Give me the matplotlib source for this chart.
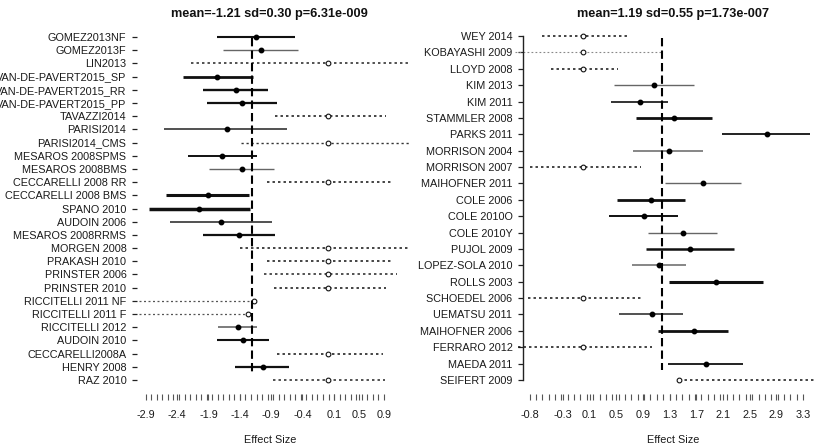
import numpy as np
import matplotlib
matplotlib.use("Agg")
import matplotlib.pyplot as plt

plt.rcParams['font.family'] = ['Liberation Sans', 'DejaVu Sans']

# ---------------- data: left panel ----------------
left_studies = ["GOMEZ2013NF", "GOMEZ2013F", "LIN2013", "VAN-DE-PAVERT2015_SP",
                "VAN-DE-PAVERT2015_RR", "VAN-DE-PAVERT2015_PP", "TAVAZZI2014", "PARISI2014",
                "PARISI2014_CMS", "MESAROS 2008SPMS", "MESAROS 2008BMS", "CECCARELLI 2008 RR",
                "CECCARELLI 2008 BMS", "SPANO 2010", "AUDOIN 2006", "MESAROS 2008RRMS",
                "MORGEN 2008", "PRAKASH 2010", "PRINSTER 2006", "PRINSTER 2010",
                "RICCITELLI 2011 NF", "RICCITELLI 2011 F", "RICCITELLI 2012", "AUDOIN 2010",
                "CECCARELLI2008A", "HENRY 2008", "RAZ 2010"]
left_lo = [-1.77, -1.67, -2.18, -2.31, -1.98, -1.92, -0.84, -2.61, -1.38, -2.23, -1.89, -0.97,
           -2.57, -2.85, -2.52, -1.99, -1.40, -0.97, -1.02, -0.86, -3.30, -3.30, -1.75, -1.77,
           -0.81, -1.48, -0.87]
left_est = [-1.14, -1.06, 0.0, -1.77, -1.46, -1.37, 0.0, -1.61, 0.0, -1.69, -1.37, 0.0,
            -1.91, -2.05, -1.70, -1.42, 0.0, 0.0, 0.0, 0.0, -1.18, -1.27, -1.43, -1.35,
            0.0, -1.03, 0.0]
left_hi = [-0.52, -0.47, 2.20, -1.19, -0.95, -0.81, 0.93, -0.65, 1.40, -1.13, -0.86, 1.04,
           -1.26, -1.24, -0.89, -0.84, 1.40, 1.04, 1.11, 0.93, -1.18, -1.27, -1.12, -0.94,
           0.89, -0.62, 0.91]
left_null = [0, 0, 1, 0, 0, 0, 1, 0, 1, 0, 0, 1, 0, 0, 0, 0, 1, 1, 1, 1, 1, 1, 0, 0, 1, 0, 1]
left_mean = -1.21
left_title = "mean=-1.21 sd=0.30 p=6.31e-009"
left_ticks = [-2.9, -2.4, -1.9, -1.4, -0.9, -0.4, 0.1, 0.5, 0.9]
left_tick_labels = ["-2.9", "-2.4", "-1.9", "-1.4", "-0.9", "-0.4", "0.1", "0.5", "0.9"]

# ---------------- data: right panel ----------------
right_studies = ["WEY 2014", "KOBAYASHI 2009", "LLOYD 2008", "KIM 2013", "KIM 2011",
                 "STAMMLER 2008", "PARKS 2011", "MORRISON 2004", "MORRISON 2007",
                 "MAIHOFNER 2011", "COLE 2006", "COLE 2010O", "COLE 2010Y", "PUJOL 2009",
                 "LOPEZ-SOLA 2010", "ROLLS 2003", "SCHOEDEL 2006", "UEMATSU 2011",
                 "MAIHOFNER 2006", "FERRARO 2012", "MAEDA 2011", "SEIFERT 2009"]
right_lo = [-0.61, -1.02, -0.48, 0.47, 0.42, 0.80, 2.09, 0.75, -0.79, 1.23, 0.51, 0.39,
            0.98, 0.95, 0.74, 1.29, -0.82, 0.54, 1.13, -0.97, 1.28, 1.44]
right_est = [0.0, 0.0, 0.0, 1.07, 0.86, 1.37, 2.76, 1.29, 0.0, 1.80, 1.02, 0.92,
             1.50, 1.61, 1.14, 2.00, 0.0, 1.04, 1.67, 0.0, 1.85, 1.44]
right_hi = [0.71, 1.19, 0.53, 1.67, 1.28, 1.94, 3.40, 1.80, 0.87, 2.37, 1.53, 1.43,
            2.01, 2.27, 1.55, 2.70, 0.90, 1.50, 2.18, 1.04, 2.40, 3.60]
right_null = [1, 1, 1, 0, 0, 0, 0, 0, 1, 0, 0, 0, 0, 0, 0, 0, 1, 0, 0, 1, 0, 1]
right_mean = 1.19
right_title = "mean=1.19 sd=0.55 p=1.73e-007"
right_ticks = [-0.8, -0.3, 0.1, 0.5, 0.9, 1.3, 1.7, 2.1, 2.5, 2.9, 3.3]
right_tick_labels = ["-0.8", "-0.3", "0.1", "0.5", "0.9", "1.3", "1.7", "2.1", "2.5", "2.9", "3.3"]

# ---------------- styles ----------------
left_lw = [1.5, 1.0, 1.1, 2.0, 1.7, 1.6, 1.1, 1.1, 1.0, 1.4, 1.0, 1.1,
           2.2, 2.5, 1.2, 1.6, 1.1, 1.1, 1.1, 1.1, 0.9, 0.9, 1.2, 1.5, 1.1, 1.6, 1.1]
left_col = ["#111", "#666", "#222", "#111", "#111", "#111", "#111", "#222", "#333", "#111",
            "#666", "#111", "#111", "#111", "#333", "#111", "#111", "#111", "#222", "#111",
            "#555", "#555", "#666", "#111", "#111", "#111", "#222"]
right_lw = [1.1, 0.8, 1.1, 1.0, 1.2, 2.0, 1.3, 1.1, 1.1, 1.0, 2.0, 1.4, 1.0, 1.8, 1.1, 2.2,
            1.1, 1.1, 2.0, 1.1, 1.3, 1.1]
right_col = ["#111", "#888", "#111", "#666", "#111", "#111", "#111", "#666", "#111", "#666",
             "#111", "#111", "#666", "#111", "#666", "#111", "#111", "#222", "#111", "#111",
             "#111", "#111"]

W, H, DPI = 815, 448, 100
fig = plt.figure(figsize=(W / DPI, H / DPI), dpi=DPI)
fig.patch.set_facecolor("white")


def box(x0, x1, y0, y1):
    return [x0 / W, 1 - y1 / H, (x1 - x0) / W, (y1 - y0) / H]


def forest(ax, studies, lo, est, hi, null, lw, col, mean, ticks, tlabels,
           xlim, top_pad, bot_pad, clip, spine):
    n = len(studies)
    for i in range(n):
        if null[i]:
            ax.plot([lo[i], hi[i]], [i, i], ls=(0, (1.6, 2.0)), color=col[i], lw=lw[i],
                    clip_on=clip, zorder=2)
            ax.plot(est[i], i, 'o', mfc='white', mec='#111', ms=3.4, mew=0.8,
                    clip_on=clip, zorder=3)
        else:
            ax.plot([lo[i], hi[i]], [i, i], color=col[i], lw=lw[i], solid_capstyle='butt',
                    clip_on=clip, zorder=2)
            ax.plot(est[i], i, 'o', color='#000', ms=3.2, clip_on=clip, zorder=3)
    ax.vlines(mean, 0.1, n - 1.6, colors='#000', linestyles=(0, (4, 2)), lw=1.5, zorder=4)
    ax.set_xlim(*xlim)
    ax.set_ylim(n - 1 + bot_pad, -top_pad)
    ax.set_yticks(range(n))
    ax.set_yticklabels(studies)
    ax.tick_params(axis='y', length=3.6, width=0.9, pad=4, labelsize=7.8,
                   colors='#222', labelcolor='#1a1a1a')
    ax.set_xticks(ticks, labels=tlabels)
    ax.set_xticks(np.linspace(ticks[0], ticks[-1], 44), minor=True)
    ax.tick_params(axis='x', which='both', direction='in', length=4.3, width=0.8,
                   colors='#555')
    ax.tick_params(axis='x', which='major', pad=7, labelsize=7.8, labelcolor='#1a1a1a')
    for s in ax.spines.values():
        s.set_visible(False)
    if spine:
        ax.spines['left'].set_visible(True)
        ax.spines['left'].set_bounds(0, n - 1)
        ax.spines['left'].set_color('#222')
        ax.spines['left'].set_linewidth(1.0)
    ax.set_facecolor('none')


axL = fig.add_axes(box(137, 410, 25, 400))
forest(axL, left_studies, left_lo, left_est, left_hi, left_null, left_lw, left_col,
       left_mean, left_ticks, left_tick_labels, (-3.04, 1.316), 0.91, 1.516, True, False)

axR = fig.add_axes(box(523, 815, 25, 400))
forest(axR, right_studies, right_lo, right_est, right_hi, right_null, right_lw, right_col,
       right_mean, right_ticks, right_tick_labels, (-0.898, 3.478), 0.672, 1.221, False, True)

fig.text(269.5 / W, 1 - 13.5 / H, left_title, ha='center', va='center', fontsize=9.2,
         fontweight='bold', color='#111')
fig.text(673 / W, 1 - 13.5 / H, right_title, ha='center', va='center', fontsize=9.2,
         fontweight='bold', color='#111')
fig.text(270 / W, 1 - 440 / H, "Effect Size", ha='center', va='center', fontsize=7.8,
         color='#1a1a1a')
fig.text(673 / W, 1 - 440 / H, "Effect Size", ha='center', va='center', fontsize=7.8,
         color='#1a1a1a')

fig.savefig("out.png", dpi=DPI, facecolor='white')
